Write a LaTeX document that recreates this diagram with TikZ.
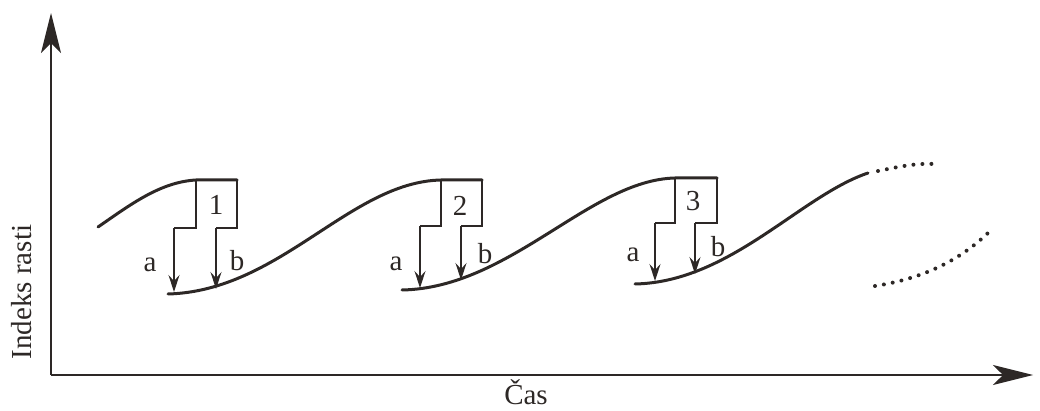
\documentclass[tikz,border=0pt]{standalone}
\usepackage{fontspec}
\setmainfont{Liberation Serif}
\usetikzlibrary{arrows.meta}
\definecolor{ink}{RGB}{45,40,38}
\tikzset{
  curve/.style={draw=ink, line width=3pt, line cap=round},
  thin/.style={draw=ink, line width=1.3pt},
  dn/.style={thin, -{Stealth[length=17pt,width=11pt,inset=6pt]}},
  axis/.style={draw=ink, line width=1.5pt, -{Stealth[length=40pt,width=20pt,inset=10pt]}},
  lbl/.style={text=ink, font=\fontsize{29}{30}\selectfont, inner sep=0pt},
  dots/.style={draw=ink, line width=4pt, line cap=round, dash pattern=on 0pt off 9pt}
}
\begin{document}
\begin{tikzpicture}[x=1pt,y=-1pt]
\useasboundingbox (0,0) rectangle (1040,411);
% axes
\coordinate (O) at (51,375);
\coordinate (Ytip) at (51,13);
\coordinate (Xtip) at (1033,375);
\draw[axis] (O) -- (Ytip);
\draw[axis] (O) -- (Xtip);
\node[lbl, rotate=90] (ylab) at (22,292) {Indeks rasti};
\node[lbl] (xlab) at (526,392) {Čas};

% first upper curve
\coordinate (s0) at (98,227);
\coordinate (t1L) at (196,180);
\coordinate (t1R) at (237,180);
\draw[curve] (s0) .. controls (130,205) and (160,182) .. (t1L) -- (t1R);

% segment 1 lower curve -> top 2
\coordinate (b1) at (168,294);
\coordinate (t2L) at (441,180);
\coordinate (t2R) at (482,180);
\draw[curve] (b1) .. controls (280,291) and (350,182) .. (t2L) -- (t2R);

% segment 2 lower -> top 3
\coordinate (b2) at (402,290);
\coordinate (t3L) at (675,178);
\coordinate (t3R) at (717,178);
\draw[curve] (b2) .. controls (510,288) and (590,180) .. (t3L) -- (t3R);

% segment 3 lower
\coordinate (b3) at (635,284);
\coordinate (e3) at (868,173);
\draw[curve] (b3) .. controls (730,282) and (800,196) .. (e3);

% dotted continuations
\coordinate (d1s) at (878,171);
\coordinate (d1e) at (934,164);
\draw[dots] (d1s) .. controls (898,167) and (915,163) .. (d1e);
\coordinate (d2s) at (875,286);
\coordinate (d2e) at (993,228);
\draw[dots] (d2s) .. controls (920,279) and (960,262) .. (d2e);

% box 1
\coordinate (a1) at (174,228);
\coordinate (a1e) at (174,292);
\coordinate (c1) at (216,228);
\coordinate (c1e) at (216,289);
\draw[thin] (t1L) -- (196,228) -- (a1);
\draw[thin] (t1R) -- (237,228) -- (c1);
\draw[dn] (a1) -- (a1e);
\draw[dn] (c1) -- (c1e);
\node[lbl] (n1) at (216,205) {1};
\node[lbl] (la1) at (150,265) {a};
\node[lbl] (lb1) at (237,261) {b};

% box 2
\coordinate (a2) at (420,226);
\coordinate (a2e) at (420,288);
\coordinate (c2) at (461,226);
\coordinate (c2e) at (461,280);
\draw[thin] (t2L) -- (441,226) -- (a2);
\draw[thin] (t2R) -- (482,226) -- (c2);
\draw[dn] (a2) -- (a2e);
\draw[dn] (c2) -- (c2e);
\node[lbl] (n2) at (460,206) {2};
\node[lbl] (la2) at (396,264) {a};
\node[lbl] (lb2) at (485,254) {b};

% box 3
\coordinate (a3) at (655,223);
\coordinate (a3e) at (655,281);
\coordinate (c3) at (695,223);
\coordinate (c3e) at (695,274);
\draw[thin] (t3L) -- (675,223) -- (a3);
\draw[thin] (t3R) -- (717,223) -- (c3);
\draw[dn] (a3) -- (a3e);
\draw[dn] (c3) -- (c3e);
\node[lbl] (n3) at (693,201) {3};
\node[lbl] (la3) at (633,255) {a};
\node[lbl] (lb3) at (718,247) {b};
\end{tikzpicture}
\end{document}
